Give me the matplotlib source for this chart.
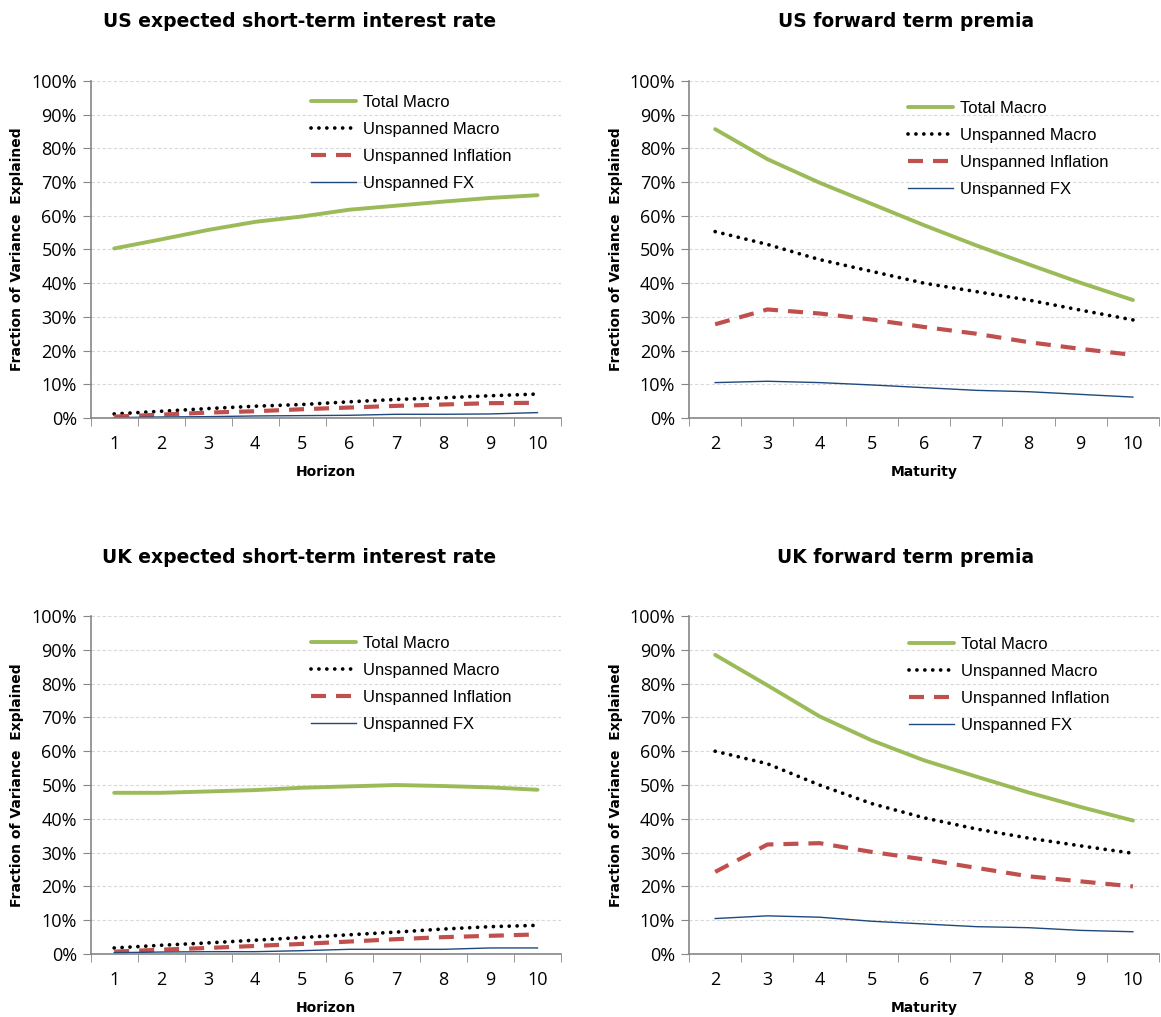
import matplotlib.pyplot as plt
import numpy as np

# Data (percent)
horizon = [1, 2, 3, 4, 5, 6, 7, 8, 9, 10]
maturity = [2, 3, 4, 5, 6, 7, 8, 9, 10]

us_rate_total = [50.3, 53.0, 55.8, 58.2, 59.8, 61.8, 63.0, 64.2, 65.3, 66.1]
us_rate_macro = [1.2, 2.0, 2.8, 3.5, 4.0, 4.8, 5.5, 6.0, 6.6, 7.1]
us_rate_infl = [0.4, 1.0, 1.6, 2.0, 2.6, 3.1, 3.6, 4.0, 4.4, 4.5]
us_rate_fx = [0.1, 0.3, 0.4, 0.6, 0.7, 0.8, 1.1, 1.1, 1.2, 1.6]

us_tp_total = [85.7, 76.8, 69.8, 63.5, 57.2, 51.2, 45.6, 40.1, 35.0]
us_tp_macro = [55.3, 51.5, 47.0, 43.5, 40.0, 37.5, 35.0, 32.0, 29.1]
us_tp_infl = [27.8, 32.2, 31.0, 29.2, 27.0, 25.0, 22.5, 20.5, 18.7]
us_tp_fx = [10.5, 10.9, 10.5, 9.8, 9.0, 8.2, 7.8, 7.0, 6.2]

uk_rate_total = [47.7, 47.7, 48.1, 48.5, 49.2, 49.6, 50.0, 49.7, 49.3, 48.6]
uk_rate_macro = [1.8, 2.6, 3.3, 4.1, 4.9, 5.7, 6.5, 7.4, 8.1, 8.5]
uk_rate_infl = [0.7, 1.3, 1.8, 2.4, 3.0, 3.7, 4.4, 5.0, 5.4, 5.8]
uk_rate_fx = [0.4, 0.6, 0.7, 0.7, 1.0, 1.4, 1.4, 1.4, 1.8, 1.8]

uk_tp_total = [88.5, 79.5, 70.3, 63.2, 57.3, 52.5, 47.8, 43.5, 39.5]
uk_tp_macro = [60.0, 56.3, 50.0, 44.5, 40.3, 37.0, 34.3, 32.0, 29.8]
uk_tp_infl = [24.3, 32.4, 32.8, 30.2, 28.0, 25.5, 23.0, 21.5, 20.0]
uk_tp_fx = [10.5, 11.3, 10.9, 9.7, 8.9, 8.1, 7.8, 7.0, 6.6]

labels = ['Total Macro', 'Unspanned Macro', 'Unspanned Inflation', 'Unspanned FX']

GREEN = '#9BBB59'
RED = '#C0504D'
NAVY = '#1F497D'
AXIS = '#868686'

FONT = 'Open Sans'
LEGFONT = 'Liberation Sans'
BOLD = 'DejaVu Sans'

fig = plt.figure(figsize=(11.61, 10.17), dpi=100)

panels = [
    # rect, title, cats, series, xlabel, legend anchor, title x
    ([0.0781, 0.5890, 0.4051, 0.3314], 'US expected short-term interest rate', horizon,
     (us_rate_total, us_rate_macro, us_rate_infl, us_rate_fx), 'Horizon', (0.468, 0.958), 0.258),
    ([0.5935, 0.5890, 0.4048, 0.3314], 'US forward term premia', maturity,
     (us_tp_total, us_tp_macro, us_tp_infl, us_tp_fx), 'Maturity', (0.465, 0.940), 0.780),
    ([0.0781, 0.0619, 0.4051, 0.3324], 'UK expected short-term interest rate', horizon,
     (uk_rate_total, uk_rate_macro, uk_rate_infl, uk_rate_fx), 'Horizon', (0.468, 0.940), 0.258),
    ([0.5935, 0.0619, 0.4048, 0.3324], 'UK forward term premia', maturity,
     (uk_tp_total, uk_tp_macro, uk_tp_infl, uk_tp_fx), 'Maturity', (0.467, 0.938), 0.780),
]

for rect, title, cats, series, xlab, anchor, tx in panels:
    ax = fig.add_axes(rect)
    x = np.arange(len(cats))
    total, macro, infl, fx = series
    ax.plot(x, total, color=GREEN, lw=2.8, label=labels[0], solid_capstyle='round')
    ax.plot(x, macro, color='black', lw=2.7, ls=(0, (0.01, 2.1)), dash_capstyle='round', label=labels[1])
    ax.plot(x, infl, color=RED, lw=3.0, ls=(0, (3.6, 2.4)), label=labels[2])
    ax.plot(x, fx, color=NAVY, lw=1.0, label=labels[3])

    ax.set_xlim(-0.5, len(cats) - 0.5)
    ax.set_ylim(0, 100)
    ax.set_yticks(np.arange(0, 101, 10))
    ax.set_yticklabels([f'{v}%' for v in range(0, 101, 10)], fontsize=13, family=FONT)
    ax.set_xticks(x)
    ax.set_xticklabels([str(c) for c in cats], fontsize=13, family=FONT)
    ax.set_xticks(np.arange(-0.5, len(cats)), minor=True)
    ax.tick_params(axis='x', which='major', length=0, pad=12)
    ax.tick_params(axis='x', which='minor', length=6, color=AXIS, direction='out')
    ax.tick_params(axis='y', length=6, color=AXIS, direction='out', pad=4)
    ax.grid(axis='y', color='#D9D9D9', ls=(0, (3, 2)), lw=0.8)
    ax.set_axisbelow(True)
    for s in ('top', 'right'):
        ax.spines[s].set_visible(False)
    for s in ('left', 'bottom'):
        ax.spines[s].set_color(AXIS)
        ax.spines[s].set_linewidth(1.2)

    ax.set_xlabel(xlab, fontsize=10, family=BOLD, fontweight='bold', labelpad=9)
    ax.set_ylabel('Fraction of Variance  Explained', fontsize=10, family=BOLD, fontweight='bold', labelpad=5)

    ax.legend(loc='upper left', bbox_to_anchor=anchor, frameon=False,
              prop={'family': LEGFONT, 'size': 12}, handlelength=2.7,
              handletextpad=0.45, labelspacing=0.72, borderpad=0, borderaxespad=0)

    fig.text(tx, rect[1] + rect[3] + 0.058, title,
             ha='center', va='center', fontsize=13.5, family=BOLD, fontweight='bold')

plt.savefig('out.png', dpi=100)
